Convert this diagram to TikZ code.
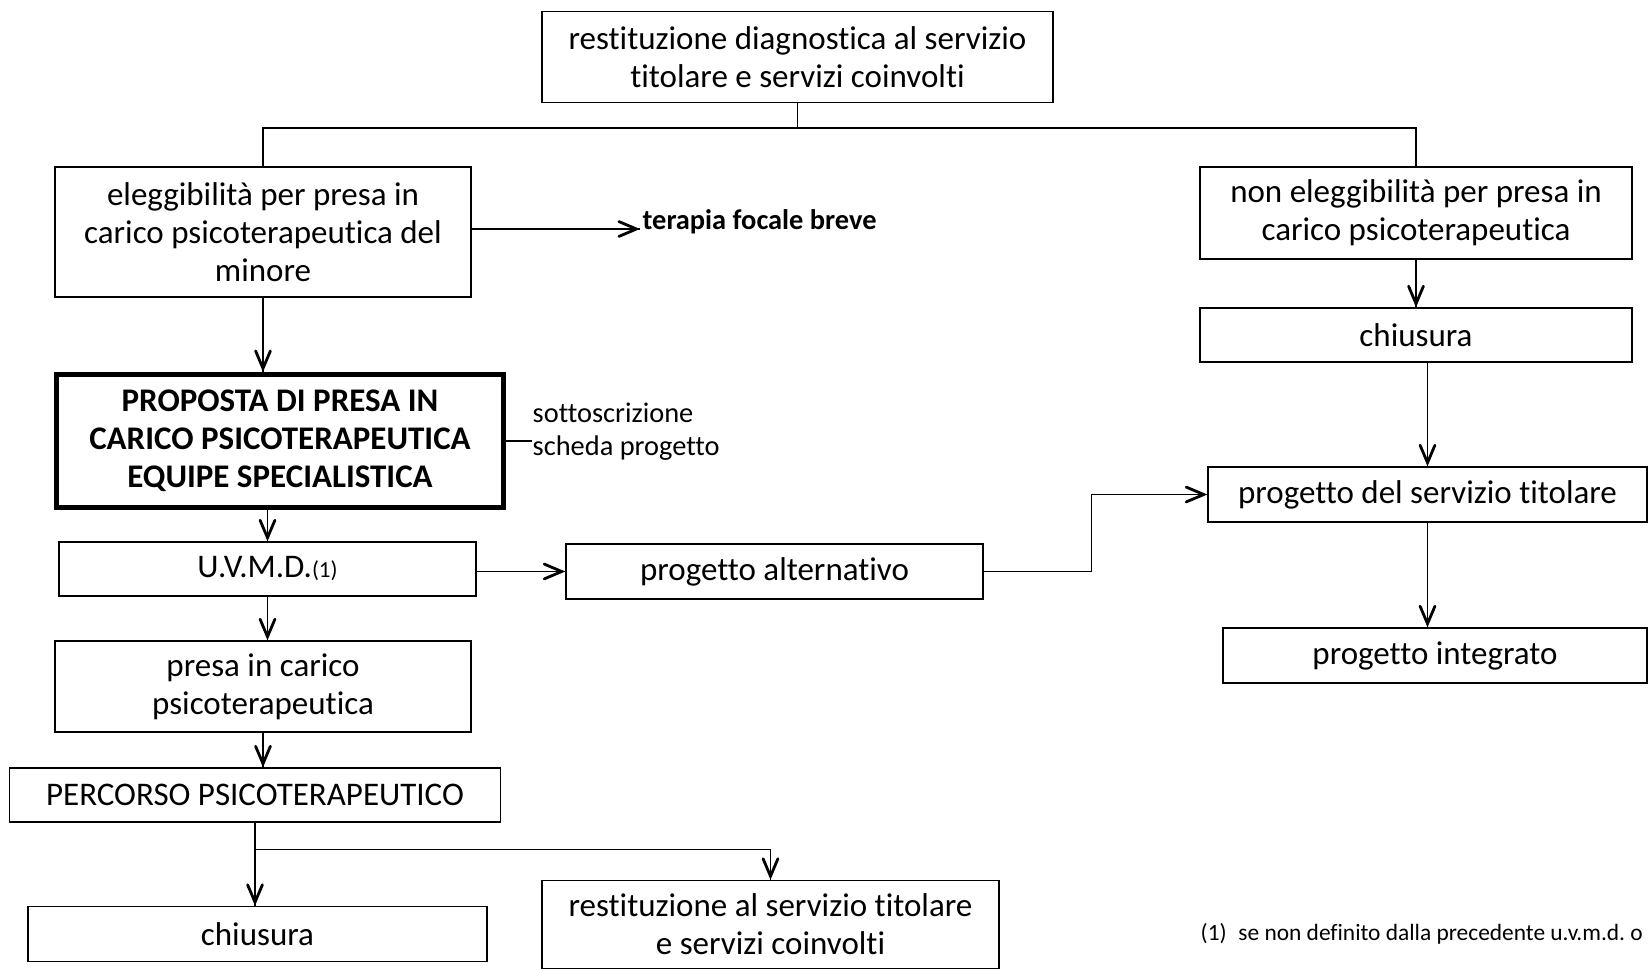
\documentclass[tikz,border=0pt]{standalone}
\usepackage{fontspec}
\setmainfont{Carlito}[Ligatures={NoCommon}]
\usepackage{tikz}
\usetikzlibrary{arrows}
\usetikzlibrary{decorations.markings}
\usetikzlibrary{calc}
\tikzset{->/.style = {decoration={markings,
                                  mark=at position 1 with {\arrow[scale=2]{angle 45}}},
                      postaction={decorate}}}
\tikzset{box/.style = {draw, line width=0.7pt, inner sep=0pt, align=center,
                       font=\fontsize{16.5}{19}\selectfont}}
\tikzset{boldbox/.style = {box, line width=2.5pt, font=\fontsize{16.5}{19}\selectfont\bfseries}}
\tikzset{note/.style = {inner sep=0pt, align=left, font=\fontsize{14.2}{16.5}\selectfont}}
\begin{document}
\begin{tikzpicture}[x=0.5pt, y=-0.5pt, line width=0.7pt]
      \useasboundingbox (0,0) rectangle (1650,969);
      \node [box, minimum width=255.5pt, minimum height=45.25pt] (restDiag) at (797.5,57) {restituzione diagnostica al servizio\\titolare e servizi coinvolti};
      \node [box, minimum width=208pt, minimum height=65pt] (eleg) at (263,232) {eleggibilità per presa in\\carico psicoterapeutica del\\minore};
      \node [box, minimum width=216pt, minimum height=46pt] (nonEleg) at (1416,213) {non eleggibilità per presa in\\carico psicoterapeutica};
      \node [box, minimum width=216pt, minimum height=27pt] (chiusuraR) at (1416,335) {chiusura};
      \node [boldbox, minimum width=223.5pt, minimum height=66.5pt] (proposta) at (280,441) {PROPOSTA DI PRESA IN\\CARICO PSICOTERAPEUTICA\\EQUIPE SPECIALISTICA};
      \node [box, minimum width=219.5pt, minimum height=27.5pt] (progServ) at (1427.5,494.5) {progetto del servizio titolare};
      \node [box, minimum width=208.5pt, minimum height=27pt] (uvmd) at (267.5,569) {U.V.M.D.{\fontsize{11.5}{13}\selectfont(1)}};
      \node [box, minimum width=208.5pt, minimum height=27.5pt] (progAlt) at (774.5,571.5) {progetto alternativo};
      \node [box, minimum width=212pt, minimum height=27.5pt] (progInt) at (1435,655.5) {progetto integrato};
      \node [box, minimum width=208pt, minimum height=45.5pt] (presa) at (263,686.5) {presa in carico\\psicoterapeutica};
      \node [box, minimum width=245.5pt, minimum height=27pt] (percorso) at (255,795) {PERCORSO PSICOTERAPEUTICO};
      \node [box, minimum width=229.5pt, minimum height=27.5pt] (chiusuraB) at (257.5,934) {chiusura};
      \node [box, minimum width=228.5pt, minimum height=44pt] (restServ) at (770.5,924.5) {restituzione al servizio titolare\\e servizi coinvolti};
      \node [note, inner sep=1pt, anchor=base west, font=\fontsize{14.2}{16.5}\selectfont\bfseries] (terapia) at (640,229) {terapia focale breve};
      \node [note, anchor=west] (firma) at (532,432) {sottoscrizione\\scheda progetto};
      \node [note, anchor=west, font=\fontsize{11.7}{13}\selectfont] (nota) at (1200,934) {(1)\enspace se non definito dalla precedente u.v.m.d.\ o};
      \coordinate (split) at ($(restDiag.south)+(0,25)$);
      \coordinate (branch) at ($(percorso.south)+(0,27)$);
      \draw (restDiag.south) -- (split);
      \draw (eleg.north) |- (split) -| (nonEleg.north);
      \draw [->] (eleg.east |- terapia.base west) -- (terapia.base west);
      \draw [->] (eleg.south) -- (eleg.south |- proposta.north);
      \draw (proposta.east) -- (proposta.east -| firma.west);
      \draw [->] (uvmd.north |- proposta.south) -- (uvmd.north);
      \draw [->] (uvmd.east |- progAlt.west) -- (progAlt.west);
      \draw [->] (progAlt.east) -- ++(108,0) |- (progServ.west);
      \draw [->] (uvmd.south) -- (uvmd.south |- presa.north);
      \draw [->] (presa.south) -- (presa.south |- percorso.north);
      \draw [->] (percorso.south) -- (percorso.south |- chiusuraB.north);
      \draw [->] (branch) -| (restServ.north);
      \draw [->] (nonEleg.south) -- (nonEleg.south |- chiusuraR.north);
      \draw [->] (progServ.north |- chiusuraR.south) -- (progServ.north);
      \draw [->] (progServ.south) -- (progServ.south |- progInt.north);
    \end{tikzpicture}
\end{document}
